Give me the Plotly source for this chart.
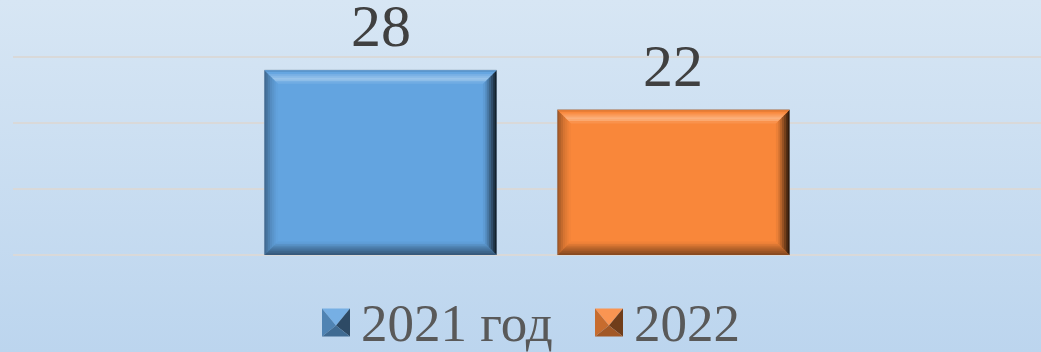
import base64
import plotly.graph_objects as go

# ---- data -------------------------------------------------------------
series_names = ["2021 год", "2022"]
series_values = [28, 22]
series_colors = [(99, 164, 224), (249, 135, 58)]
gridline_values = [0, 10, 20, 30]

# ---- layout constants ------------------------------------------------
W, H = 1041, 352
PLOT_LEFT = 13          # px from the left edge where the plot area starts
PLOT_BOTTOM = 97        # px reserved under the plot area for the legend
Y_TOP = 38.64           # upper end of the value axis
BARGAP = 0.43
BARGROUPGAP = 0.208
BEVEL_PX = 13
STRIPS = 7
LABEL_LIFT = 9          # extra px between a bar top and its value label
SERIF = "Liberation Serif, Times New Roman, serif"

plot_w = W - PLOT_LEFT
plot_h = H - PLOT_BOTTOM
px_per_x = plot_w / 1.0          # x range is [-0.5, 0.5]
px_per_y = plot_h / Y_TOP


def rgb(c):
    return "rgb(%d,%d,%d)" % tuple(int(round(v)) for v in c)


def shade(c, k):
    """k < 1 darkens, k > 1 blends towards white."""
    if k <= 1:
        return tuple(v * k for v in c)
    t = k - 1
    return tuple(v + (255 - v) * t for v in c)


def profile(stops, t):
    for (t0, k0), (t1, k1) in zip(stops, stops[1:]):
        if t0 <= t <= t1:
            f = (t - t0) / (t1 - t0) if t1 > t0 else 0
            return k0 + (k1 - k0) * f
    return stops[-1][1]


# bevel brightness along the depth of each edge (outer -> inner)
BEVEL_PROFILES = {
    "top": [(0, 0.86), (0.35, 1.12), (0.7, 1.38), (1.0, 1.0)],
    "left": [(0, 0.62), (0.5, 0.86), (1.0, 1.0)],
    "right": [(0, 0.14), (0.3, 0.42), (0.7, 0.78), (1.0, 1.0)],
    "bottom": [(0, 0.52), (0.5, 0.74), (1.0, 1.0)],
}

fig = go.Figure()

for name, val, col in zip(series_names, series_values, series_colors):
    fig.add_trace(go.Bar(
        x=[0], y=[val], name=name,
        marker=dict(color=rgb(col), line=dict(color="rgba(140,160,180,0.8)", width=1)),
        showlegend=False,
    ))

# bevelled edges and value labels of every bar, from the group geometry
shapes = []
annotations = []
n = len(series_values)
slot = (1 - BARGAP) / n
bar_w = slot * (1 - BARGROUPGAP)
dx = 1 / px_per_x
dy = 1 / px_per_y
for i, (val, col) in enumerate(zip(series_values, series_colors)):
    x0 = -(1 - BARGAP) / 2 + i * slot + slot * BARGROUPGAP / 2
    x1 = x0 + bar_w
    y0, y1 = 0.0, float(val)
    for s in range(STRIPS):
        a = BEVEL_PX * s / STRIPS
        b = BEVEL_PX * (s + 1) / STRIPS + 0.6
        tmid = (s + 0.5) / STRIPS
        polys = {
            "top": [(x0 + a * dx, y1 - a * dy), (x1 - a * dx, y1 - a * dy),
                    (x1 - b * dx, y1 - b * dy), (x0 + b * dx, y1 - b * dy)],
            "bottom": [(x0 + a * dx, y0 + a * dy), (x1 - a * dx, y0 + a * dy),
                       (x1 - b * dx, y0 + b * dy), (x0 + b * dx, y0 + b * dy)],
            "left": [(x0 + a * dx, y0 + a * dy), (x0 + a * dx, y1 - a * dy),
                     (x0 + b * dx, y1 - b * dy), (x0 + b * dx, y0 + b * dy)],
            "right": [(x1 - a * dx, y0 + a * dy), (x1 - a * dx, y1 - a * dy),
                      (x1 - b * dx, y1 - b * dy), (x1 - b * dx, y0 + b * dy)],
        }
        for side in ("left", "right", "top", "bottom"):
            pts = polys[side]
            path = "M" + " L".join("%.6f,%.6f" % p for p in pts) + " Z"
            k = profile(BEVEL_PROFILES[side], tmid)
            shapes.append(dict(type="path", xref="x", yref="y", path=path,
                               fillcolor=rgb(shade(col, k)), line=dict(width=0),
                               layer="above"))
    annotations.append(dict(
        xref="x", yref="y", x=(x0 + x1) / 2, y=val, text=str(val),
        xanchor="center", yanchor="bottom", yshift=LABEL_LIFT, showarrow=False,
        font=dict(family=SERIF, size=60, color="#404040"),
    ))

# legend: bevelled square swatches and labels
legend_entries = [(336, 359), (609, 632)]   # swatch centre x, label start x (px)
LEG_Y = 322.5
SW = 14
for (cx, tx), name, col in zip(legend_entries, series_names, series_colors):
    def P(px, py):
        return "%.6f,%.6f" % (px / W, 1 - py / H)
    l, r, t, btm = cx - SW, cx + SW, LEG_Y - SW, LEG_Y + SW
    c = (cx, LEG_Y + 3)
    tris = [
        ([(l, t), (r, t), c], 1.12),
        ([(l, t), (l, btm), c], 0.8),
        ([(r, t), (r, btm), c], 0.45),
        ([(l, btm), (r, btm), c], 0.65),
    ]
    for pts, k in tris:
        path = "M" + " L".join(P(*p) for p in pts) + " Z"
        shapes.append(dict(type="path", xref="paper", yref="paper", path=path,
                           fillcolor=rgb(shade(col, k)), line=dict(width=0)))
    annotations.append(dict(
        xref="paper", yref="paper", x=tx / W, y=1 - LEG_Y / H,
        xanchor="left", yanchor="middle", showarrow=False, text=name,
        font=dict(family=SERIF, size=53, color="#595959"),
    ))

# soft vertical gradient behind the whole chart
svg = (
    '<svg xmlns="http://www.w3.org/2000/svg" width="100" height="100" '
    'preserveAspectRatio="none">'
    '<defs><linearGradient id="g" x1="0" y1="0" x2="0" y2="1">'
    '<stop offset="0" stop-color="#D7E6F4"/>'
    '<stop offset="1" stop-color="#BCD5EE"/>'
    '</linearGradient></defs>'
    '<rect width="100" height="100" fill="url(#g)"/></svg>'
)
bg_src = "data:image/svg+xml;base64," + base64.b64encode(svg.encode()).decode()

fig.update_layout(
    width=W, height=H,
    margin=dict(l=0, r=0, t=0, b=0),
    paper_bgcolor="#C9DDF1",
    plot_bgcolor="rgba(0,0,0,0)",
    barmode="group", bargap=BARGAP, bargroupgap=BARGROUPGAP,
    showlegend=False,
    shapes=shapes,
    annotations=annotations,
    images=[dict(source=bg_src, xref="paper", yref="paper", x=0, y=1,
                 sizex=1, sizey=1, sizing="stretch", layer="below",
                 xanchor="left", yanchor="top")],
    xaxis=dict(domain=[PLOT_LEFT / W, 1], range=[-0.5, 0.5],
               showgrid=False, zeroline=False, showticklabels=False,
               showline=False, ticks=""),
    yaxis=dict(domain=[PLOT_BOTTOM / H, 1], range=[0, Y_TOP],
               tickvals=gridline_values, showticklabels=False, ticks="",
               showgrid=True, gridcolor="#D9D9D9", gridwidth=1.5,
               zeroline=True, zerolinecolor="#D9D9D9", zerolinewidth=1.5,
               showline=False),
)

fig.write_html("out.html")
